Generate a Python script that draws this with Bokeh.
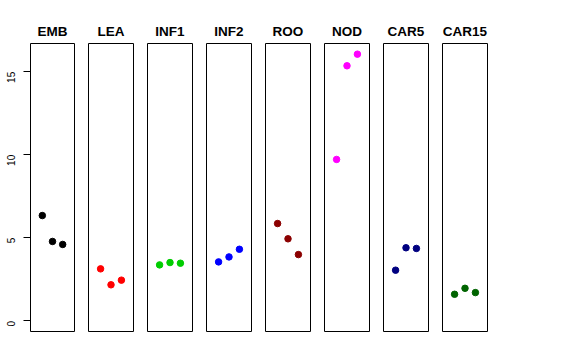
import math
from bokeh.plotting import figure
from bokeh.layouts import row
from bokeh.models import ColumnDataSource, Range1d, FixedTicker
from bokeh.embed import file_html
from bokeh.resources import INLINE

# ---- data ----
categories = ["EMB", "LEA", "INF1", "INF2", "ROO", "NOD", "CAR5", "CAR15"]
replicate = [1, 2, 3]
emb = [6.34, 4.78, 4.60]
lea = [3.13, 2.17, 2.45]
inf1 = [3.37, 3.51, 3.47]
inf2 = [3.55, 3.85, 4.31]
roo = [5.86, 4.94, 3.99]
nod = [9.72, 15.36, 16.06]
car5 = [3.05, 4.40, 4.36]
car15 = [1.60, 1.96, 1.70]
series = [emb, lea, inf1, inf2, roo, nod, car5, car15]
colors = ["#000000", "#FF0000", "#00CD00", "#0000FF", "#8B0000", "#FF00FF", "#000080", "#006400"]
y_ticks = [0, 5, 10, 15]

# ranges like R: ylim c(0, max) and xlim c(0, 4), extended by 4%
ymax = max(max(s) for s in series)
ypad = 0.04 * ymax
y_range = Range1d(0 - ypad, ymax + ypad)

FONT = "Liberation Sans"
FRAME_W = 45
BORDER = 7
TOP = 43
FRAME_H = 288
BOTTOM = 16

figs = []
for i, (cat, vals, col) in enumerate(zip(categories, series, colors)):
    left = 29 if i == 0 else BORDER
    p = figure(
        width=left + FRAME_W + BORDER,
        height=TOP + FRAME_H + BOTTOM,
        x_range=Range1d(-0.16, 4.16),
        y_range=y_range,
        output_backend="svg",
        toolbar_location=None,
        x_axis_location=None,
        y_axis_location="left" if i == 0 else None,
        min_border_left=left,
        min_border_right=BORDER,
        min_border_top=TOP,
        min_border_bottom=BOTTOM,
        background_fill_color="white",
        border_fill_color="white",
    )
    p.grid.visible = False
    p.outline_line_color = "black"
    p.outline_line_alpha = 1.0
    p.outline_line_width = 1

    p.title.text = cat
    p.title.align = "center"
    p.title.text_font = FONT
    p.title.text_font_style = "bold"
    p.title.text_font_size = "13.5px"
    p.title.text_color = "black"
    p.title.standoff = 9

    if i == 0:
        ax = p.yaxis[0]
        ax.ticker = FixedTicker(ticks=y_ticks)
        ax.axis_line_color = None
        ax.major_tick_out = 7
        ax.major_tick_in = 0
        ax.minor_tick_line_color = None
        ax.major_tick_line_color = "black"
        ax.major_label_orientation = math.pi / 2
        ax.major_label_standoff = 12
        ax.major_label_text_font = FONT
        ax.major_label_text_font_size = "10px"
        ax.major_label_text_color = "black"

    src = ColumnDataSource(dict(x=replicate, y=vals))
    p.scatter("x", "y", source=src, size=6.5, fill_color=col, line_color=col)
    figs.append(p)

layout = row(*figs, spacing=0)
open("out.html", "w").write(file_html(layout, INLINE))
